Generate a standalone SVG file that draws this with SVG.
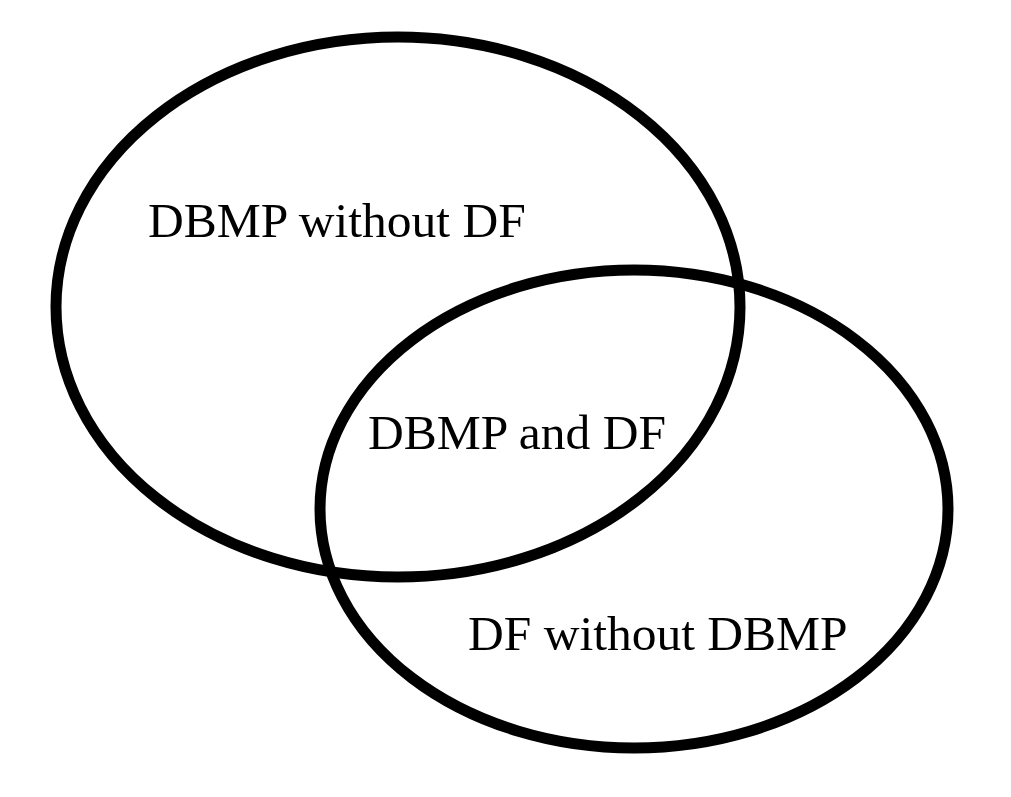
<svg xmlns="http://www.w3.org/2000/svg" width="1011" height="797" viewBox="0 0 1011 797">
<style>
.c{fill:none;stroke:#000;stroke-width:11}
.t{font-family:"Liberation Serif",serif;font-size:49.5px;fill:#000}
</style>
<rect width="1011" height="797" fill="#fff"/>
<g id="dbmp"><ellipse class="c" cx="398" cy="307" rx="342" ry="270"/></g>
<g id="df"><ellipse class="c" cx="634" cy="509" rx="314" ry="239"/></g>
<g id="labels">
<text class="t" x="148" y="237">DBMP without DF</text>
<text class="t" x="368" y="449">DBMP and DF</text>
<text class="t" x="468" y="650">DF without DBMP</text>
</g>
</svg>
